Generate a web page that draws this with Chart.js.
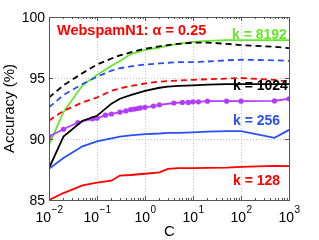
<!DOCTYPE html>
<html>
<head>
<meta charset="utf-8">
<script src="https://cdn.jsdelivr.net/npm/chart.js@4/dist/chart.umd.min.js"></script>
<style>
  html, body { margin: 0; padding: 0; background: #fff; }
</style>
</head>
<body>
<canvas id="accuracy-chart" width="319" height="240"></canvas>
<script>
// regularization values C (log axis)
const C_VALUES = [0.01, 0.02, 0.05, 0.1, 0.2, 0.3, 0.5, 1, 2, 3, 5, 10, 20, 50, 100, 500, 1000];

// solid lines
const ACC_K128  = [85.0, 85.57, 86.2, 86.42, 86.58, 87.0, 87.05, 87.15, 87.27, 87.55, 87.62, 87.62, 87.64, 87.66, 87.72, 87.8, 87.78];
const ACC_K256  = [87.55, 88.45, 89.4, 89.8, 90.05, 90.2, 90.3, 90.4, 90.45, 90.5, 90.5, 90.55, 90.6, 90.65, 90.65, 90.1, 90.75];
const ACC_K1024 = [87.6, 90.2, 91.5, 91.9, 92.9, 93.3, 93.6, 93.95, 94.2, 94.3, 94.35, 94.4, 94.45, 94.5, 94.5, 94.5, 94.5];
const ACC_K8192 = [89.5, 92.2, 94.4, 95.25, 96.0, 96.4, 96.95, 97.3, 97.5, 97.65, 97.8, 97.95, 98.05, 98.1, 98.1, 98.1, 98.1];

// dashed lines
const ACC_DASH_RED   = [91.5, 92.3, 93.0, 93.4, 93.95, 94.15, 94.35, 94.55, 94.7, 94.75, 94.8, 94.85, 94.9, 94.95, 95.0, 94.85, 94.7];
const ACC_DASH_BLUE  = [92.6, 93.6, 94.5, 95.1, 95.6, 95.8, 95.95, 96.1, 96.2, 96.25, 96.3, 96.3, 96.35, 96.45, 96.5, 96.45, 96.4];
const ACC_DASH_BLACK = [93.4, 94.4, 95.4, 96.1, 96.6, 96.85, 97.1, 97.4, 97.6, 97.7, 97.8, 97.9, 97.9, 97.8, 97.7, 97.55, 97.45];

// purple line with markers has its own C grid
const C_PURPLE   = [0.01, 0.02, 0.04, 0.08, 0.1, 0.15, 0.2, 0.3, 0.4, 0.5, 0.6, 0.7, 0.8, 1, 1.5, 2, 4, 6, 8, 10, 13, 20, 50, 100, 500, 1000];
const ACC_PURPLE = [90.2, 90.8, 91.35, 91.65, 91.7, 91.95, 92.05, 92.2, 92.3, 92.4, 92.45, 92.5, 92.55, 92.6, 92.7, 92.8, 92.95, 93.0, 93.0, 93.05, 93.05, 93.1, 93.1, 93.1, 93.12, 93.3];

const Y_TICKS = [85, 90, 95, 100];
const X_TICK_EXPONENTS = [-2, -1, 0, 1, 2, 3];

const FONT = '"Liberation Sans", Arial, Helvetica, sans-serif';
const RED = '#ff0000';
const BLUE = '#2a50f5';
const GREEN = '#66e62a';
const PURPLE = '#b23cff';

function toPoints(xs, ys) {
  return ys.map((y, i) => ({ x: xs[i], y: y }));
}

function lineSet(label, xs, ys, color, dashed) {
  return {
    label: label,
    data: toPoints(xs, ys),
    borderColor: color,
    backgroundColor: color,
    borderWidth: 1.8,
    borderDash: dashed ? [6, 4] : [],
    pointRadius: 0,
    tension: 0,
    fill: false,
  };
}

const datasets = [
  lineSet('dash black', C_VALUES, ACC_DASH_BLACK, '#000000', true),
  lineSet('dash blue', C_VALUES, ACC_DASH_BLUE, BLUE, true),
  lineSet('dash red', C_VALUES, ACC_DASH_RED, RED, true),
  lineSet('k = 128', C_VALUES, ACC_K128, RED, false),
  lineSet('k = 256', C_VALUES, ACC_K256, BLUE, false),
  lineSet('k = 1024', C_VALUES, ACC_K1024, '#000000', false),
  {
    label: 'purple',
    data: toPoints(C_PURPLE, ACC_PURPLE),
    borderColor: PURPLE,
    backgroundColor: PURPLE,
    borderWidth: 1.8,
    pointRadius: 2.6,
    pointBorderWidth: 0,
    tension: 0,
    fill: false,
  },
  lineSet('k = 8192', C_VALUES, ACC_K8192, GREEN, false),
];

function isPow10(v) {
  const e = Math.log10(v);
  return Math.abs(e - Math.round(e)) < 1e-6;
}

// matlab-ish axes: dotted grid, box, inward ticks, labels
const matlabAxes = {
  id: 'matlabAxes',
  beforeDatasetsDraw(chart) {
    const { ctx, chartArea: a, scales } = chart;
    ctx.save();
    ctx.strokeStyle = '#c4c4c4';
    ctx.lineWidth = 1;
    ctx.setLineDash([1, 2]);
    X_TICK_EXPONENTS.forEach(e => {
      const x = Math.round(scales.x.getPixelForValue(Math.pow(10, e))) + 0.5;
      ctx.beginPath();
      ctx.moveTo(x, a.top);
      ctx.lineTo(x, a.bottom);
      ctx.stroke();
    });
    Y_TICKS.forEach(v => {
      const y = Math.round(scales.y.getPixelForValue(v)) + 0.5;
      ctx.beginPath();
      ctx.moveTo(a.left, y);
      ctx.lineTo(a.right, y);
      ctx.stroke();
    });
    ctx.restore();
  },
  afterDatasetsDraw(chart) {
    const { ctx, chartArea: a, scales } = chart;
    ctx.save();
    ctx.strokeStyle = '#555';
    ctx.lineWidth = 1;
    ctx.setLineDash([]);

    // minor + major ticks on x (bottom and top)
    for (let e = -2; e <= 3; e++) {
      for (let m = 1; m <= 9; m++) {
        const v = m * Math.pow(10, e);
        if (v > 1000 + 1e-9) break;
        const x = Math.round(scales.x.getPixelForValue(v)) + 0.5;
        const len = m === 1 ? 4 : 2;
        ctx.beginPath();
        ctx.moveTo(x, a.bottom);
        ctx.lineTo(x, a.bottom - len);
        ctx.moveTo(x, a.top);
        ctx.lineTo(x, a.top + len);
        ctx.stroke();
      }
    }
    Y_TICKS.forEach(v => {
      const y = Math.round(scales.y.getPixelForValue(v)) + 0.5;
      ctx.beginPath();
      ctx.moveTo(a.left, y);
      ctx.lineTo(a.left + 4, y);
      ctx.moveTo(a.right, y);
      ctx.lineTo(a.right - 4, y);
      ctx.stroke();
    });

    // box
    ctx.strokeRect(Math.round(a.left) + 0.5, Math.round(a.top) + 0.5,
      Math.round(a.right - a.left), Math.round(a.bottom - a.top));

    // y tick labels
    ctx.fillStyle = '#000';
    ctx.font = '14px ' + FONT;
    ctx.textAlign = 'right';
    ctx.textBaseline = 'middle';
    Y_TICKS.forEach(v => {
      ctx.fillText(String(v), a.left - 4, scales.y.getPixelForValue(v) + 1);
    });

    // x tick labels as 10^e
    ctx.textAlign = 'left';
    ctx.textBaseline = 'alphabetic';
    X_TICK_EXPONENTS.forEach(e => {
      const x = scales.x.getPixelForValue(Math.pow(10, e));
      const expText = e < 0 ? '\u2212' + (-e) : String(e);
      ctx.font = '14px ' + FONT;
      const wb = ctx.measureText('10').width;
      ctx.font = '10px ' + FONT;
      const we = ctx.measureText(expText).width;
      const x0 = x - (wb + we) / 2;
      ctx.font = '14px ' + FONT;
      ctx.fillText('10', x0, a.bottom + 22);
      ctx.font = '10px ' + FONT;
      ctx.fillText(expText, x0 + wb + 0.5, a.bottom + 13);
    });

    // axis titles
    ctx.font = '15px ' + FONT;
    ctx.textAlign = 'center';
    ctx.textBaseline = 'middle';
    ctx.fillText('C', (a.left + a.right) / 2 + 0.5, a.bottom + 32);
    ctx.save();
    ctx.translate(10, (a.top + a.bottom) / 2);
    ctx.rotate(-Math.PI / 2);
    ctx.fillText('Accuracy (%)', 0, 0);
    ctx.restore();

    // in-plot annotations
    ctx.textAlign = 'left';
    ctx.textBaseline = 'alphabetic';
    ctx.font = 'bold 14.5px ' + FONT;
    ctx.fillStyle = RED;
    ctx.fillText('WebspamN1: \u03b1 = 0.25', 57, 35);

    ctx.font = 'bold 14px ' + FONT;
    ctx.fillStyle = GREEN;
    ctx.fillText('k = 8192', 232, 39);
    ctx.fillStyle = '#000';
    ctx.fillText('k = 1024', 233, 90);
    ctx.fillStyle = BLUE;
    ctx.fillText('k = 256', 233, 125);
    ctx.fillStyle = RED;
    ctx.fillText('k = 128', 233, 185);

    ctx.restore();
  }
};

const accuracyConfig = {
  type: 'line',
  data: { datasets: datasets },
  options: {
    responsive: false,
    animation: false,
    devicePixelRatio: 1,
    layout: { padding: { left: 49, right: 30, top: 17, bottom: 40 } },
    plugins: {
      legend: { display: false },
      tooltip: { enabled: false },
      title: { display: false },
    },
    scales: {
      x: {
        type: 'logarithmic',
        min: 0.01,
        max: 1000,
        ticks: { display: false },
        grid: { display: false, drawTicks: false },
        border: { display: false },
      },
      y: {
        type: 'linear',
        min: 85,
        max: 100,
        ticks: { display: false },
        grid: { display: false, drawTicks: false },
        border: { display: false },
      }
    }
  },
  plugins: [matlabAxes],
};

const accuracyChart = new Chart(document.getElementById('accuracy-chart'), accuracyConfig);
</script>
</body>
</html>
